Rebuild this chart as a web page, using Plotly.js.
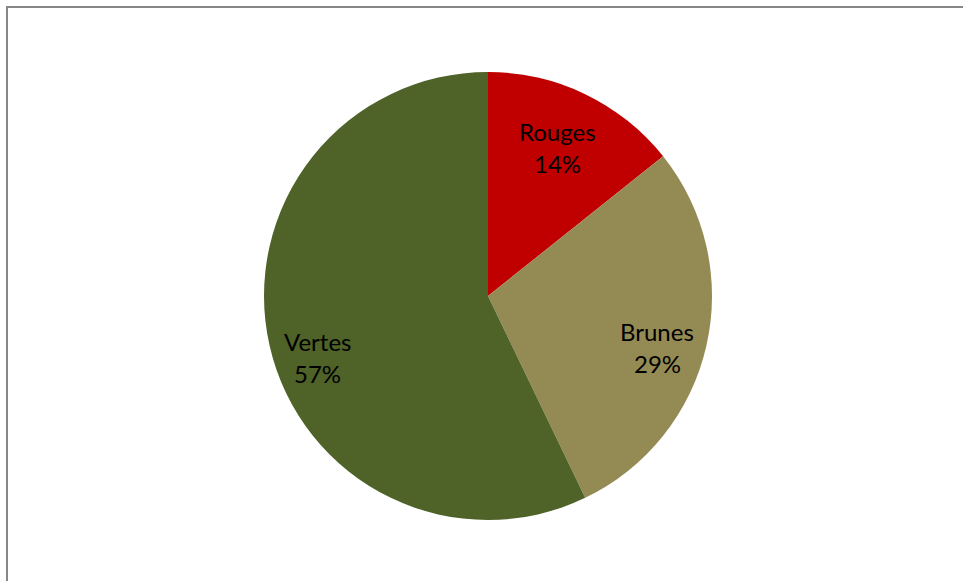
<!DOCTYPE html>
<html>
<head>
<meta charset="utf-8">
<script src="https://cdn.plot.ly/plotly-3.0.1.min.js"></script>
<style>html,body{margin:0;padding:0;background:#fff;}#chart{width:963px;height:581px;}</style>
</head>
<body>
<div id="chart"></div>
<script>
const labels = ["Rouges", "Brunes", "Vertes"];
const values = [1, 2, 4];
const colors = ["#C00000", "#948A54", "#4F6228"];

// label placement styling (fraction of radius, angular shift in degrees)
const labelRadius = [0.73, 0.79, 0.81];
const labelShift = [-0.7, 3.9, -7.1];

const W = 963, H = 581;
const cx = 488, cy = 296, R = 224;
const FONT = "Lato, Open Sans, sans-serif";

const trace = {
  type: "pie",
  labels: labels,
  values: values,
  sort: false,
  direction: "clockwise",
  rotation: 0,
  marker: {colors: colors, line: {width: 0}},
  textinfo: "none",
  hoverinfo: "label+percent",
  showlegend: false,
  domain: {x: [(cx - R) / W, (cx + R) / W], y: [(H - cy - R) / H, (H - cy + R) / H]}
};

const total = values.reduce((a, b) => a + b, 0);
const annotations = [];
let cum = 0;
values.forEach((v, i) => {
  const theta = (2 * Math.PI * (cum + v / 2) / total) + labelShift[i] * Math.PI / 180;
  cum += v;
  const px = cx + labelRadius[i] * R * Math.sin(theta);
  const py = cy - labelRadius[i] * R * Math.cos(theta);
  const pct = Math.round(100 * v / total) + "%";
  [[labels[i], -16], [pct, 16]].forEach(([t, off]) => {
    annotations.push({
      xref: "paper", yref: "paper",
      x: px / W, y: 1 - (py + off) / H,
      xanchor: "center", yanchor: "middle",
      text: t, showarrow: false,
      font: {family: FONT, size: 24, color: "#000000"}
    });
  });
});

const layout = {
  width: W, height: H,
  margin: {l: 0, r: 0, t: 0, b: 0},
  paper_bgcolor: "#ffffff",
  showlegend: false,
  annotations: annotations,
  shapes: [{
    type: "rect", xref: "paper", yref: "paper",
    x0: 7 / W, x1: 1.02, y0: -0.02, y1: 1 - 7 / H,
    line: {color: "#878787", width: 2}, fillcolor: "rgba(0,0,0,0)", layer: "above"
  }]
};

Plotly.newPlot("chart", [trace], layout, {displayModeBar: false, staticPlot: true});
</script>
</body>
</html>
